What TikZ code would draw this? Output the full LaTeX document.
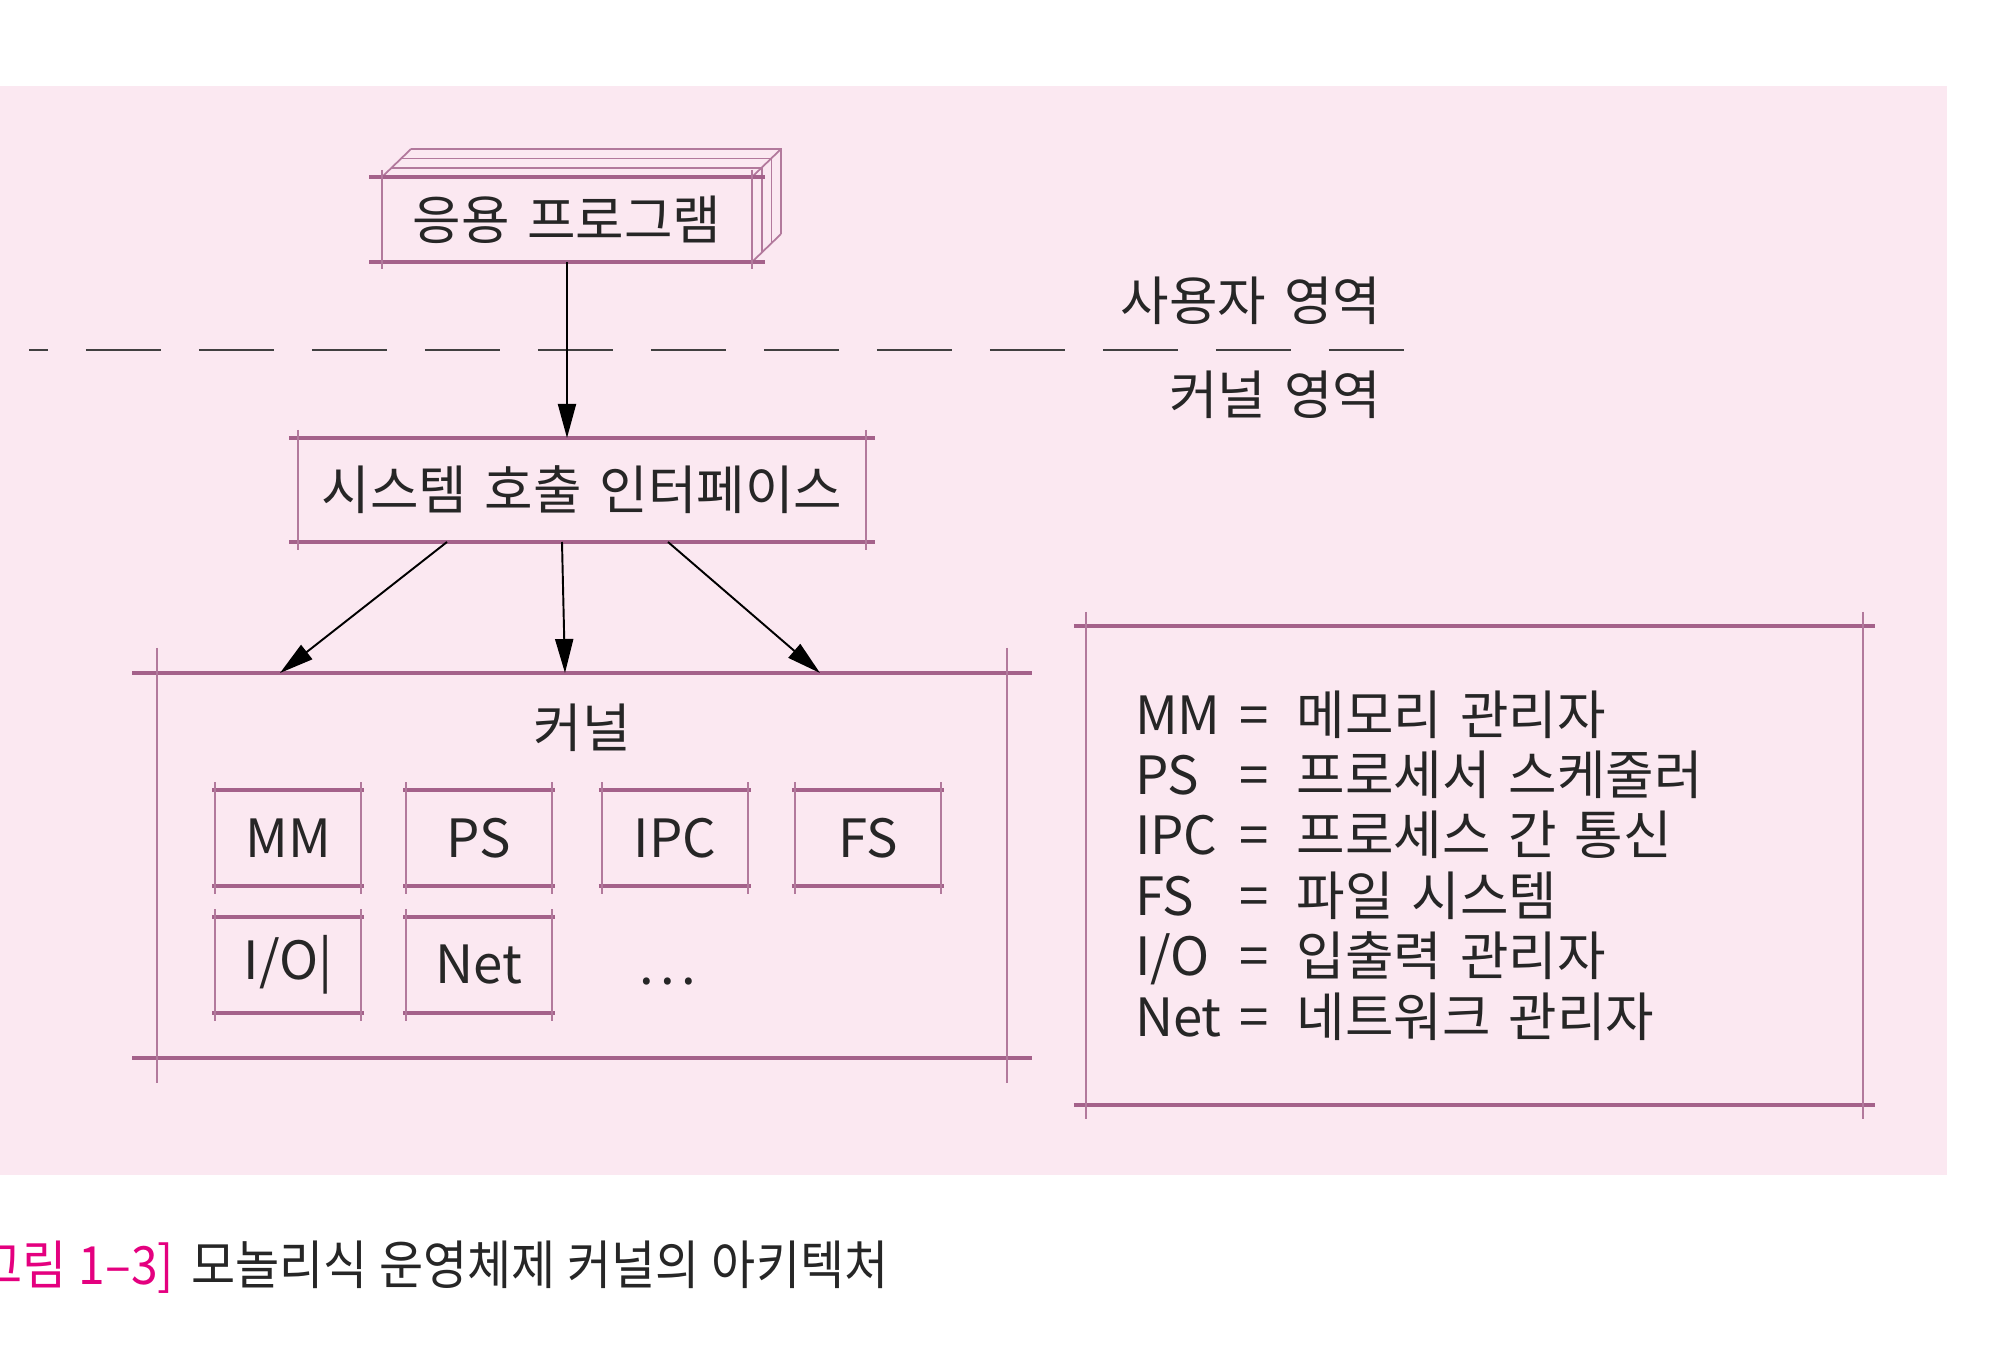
\documentclass[tikz,border=0pt]{standalone}
\usepackage{fontspec}
\setmainfont{Noto Sans CJK KR}[WordSpace=1.5]
\newfontfamily\capfont{Noto Sans CJK KR}[FakeStretch=0.91,WordSpace=1.1]
\usepackage{tikz}
\usetikzlibrary{arrows.meta,positioning,calc}
\definecolor{osbg}{HTML}{FBE8F1}
\definecolor{osframe}{HTML}{A4618A}
\definecolor{osink}{HTML}{262626}
\definecolor{osmagenta}{HTML}{E4007F}
\newcommand{\roughframe}[3]{%
  \draw[edgeh] ($(#1.north west)+(-#2,0)$) -- ($(#1.north east)+(#2,0)$);
  \draw[edgeh] ($(#1.south west)+(-#2,0)$) -- ($(#1.south east)+(#2,0)$);
  \draw[edgev] ($(#1.north west)+(0,-#3)$) -- ($(#1.south west)+(0,#3)$);
  \draw[edgev] ($(#1.north east)+(0,-#3)$) -- ($(#1.south east)+(0,#3)$);
}
\newcommand{\legrow}[2]{\makebox[10.5mm][l]{#1}\makebox[5.7mm][l]{=}#2}

\begin{document}
\begin{tikzpicture}[x=0.1mm, y=-0.1mm,
  every node/.style={text=osink, inner sep=0pt, outer sep=0pt,
                     font=\fontsize{15pt}{18pt}\selectfont},
  module/.style={minimum width=14.6mm, minimum height=9.6mm},
  edgeh/.style={osframe, line width=1.3pt},
  edgev/.style={osframe!85, line width=0.5pt},
  ar/.style={-{Triangle[length=3.4mm, width=1.8mm]}, black, line width=0.55pt},
  zone/.style={black!75, line width=0.6pt, dash pattern=on 7.5mm off 3.8mm, dash phase=5.6mm},
  legline/.style={anchor=base west},
]
\useasboundingbox (0,0) rectangle (2003,1347);
\fill[osbg] (0,86) rectangle (1947,1175);

\node[minimum width=37mm, minimum height=8.5mm] (app) at (567,219.5) {응용 프로그램};
\foreach \k in {1,2,3} {
  \draw[edgev] ($(app.north west)+(\k*9.7,-\k*9.3)$) -- ($(app.north east)+(\k*9.7,-\k*9.3)$)
    -- ($(app.south east)+(\k*9.7,-\k*9.3)$);
}
\draw[edgev] (app.north west) -- ($(app.north west)+(29,-28)$);
\draw[edgev] (app.north east) -- ($(app.north east)+(29,-28)$);
\draw[edgev] (app.south east) -- ($(app.south east)+(29,-28)$);

\node[minimum width=56.8mm, minimum height=10.4mm, below=17.6mm of app, xshift=1.5mm] (sci)
  {시스템 호출 인터페이스};
\node[minimum width=85mm, minimum height=38.5mm, below=13.1mm of sci] (kern) {};
\node[minimum width=77.7mm, minimum height=47.9mm, right=7.9mm of kern] (leg) {};

\coordinate (zl) at (29,350);
\coordinate (zr) at (1425,350);
\draw[zone] (zl) -- (zr);
\node[anchor=east] (userzone) at (1381,301) {사용자 영역};
\node[anchor=east] (kernzone) at (1381,395) {커널 영역};

\node (kernlbl) at ($(kern.north)+(0,55)$) {커널};
\node[module] (mm) at (288,838) {MM};
\node[module, right=4.5mm of mm] (ps) {PS};
\node[module, right=5mm of ps] (ipc) {IPC};
\node[module, right=4.7mm of ipc] (fs) {FS};
\node[module, below=3.1mm of mm] (io) {I/O|};
\node[module, below=3.1mm of ps] (net) {Net};
\node[anchor=base] (more) at (668,984) {.\hspace{0.12em}.\hspace{0.12em}.};

\roughframe{app}{13}{7}
\roughframe{sci}{9}{8}
\roughframe{kern}{25}{25}
\roughframe{leg}{12}{14}
\foreach \m in {mm,ps,ipc,fs,io,net} {\roughframe{\m}{3}{8}}

\draw[ar] (app.south) -- (app.south |- sci.north);
\draw[ar] ($(sci.south)+(-135,0)$) -- ($(kern.north)+(-302,0)$);
\draw[ar] ($(sci.south)+(-20,0)$) -- ($(kern.north)+(-17,0)$);
\draw[ar] ($(sci.south)+(86,0)$) -- ($(kern.north)+(238,0)$);

\node[legline] (leg1) at (1135,734) {\legrow{MM}{메모리 관리자}};
\node[legline] (leg2) at (1135,794.4) {\legrow{PS}{프로세서 스케줄러}};
\node[legline] (leg3) at (1135,854.8) {\legrow{IPC}{프로세스 간 통신}};
\node[legline] (leg4) at (1135,915.2) {\legrow{FS}{파일 시스템}};
\node[legline] (leg5) at (1135,975.6) {\legrow{I/O}{입출력 관리자}};
\node[legline] (leg6) at (1135,1036) {\legrow{Net}{네트워크 관리자}};

\node[anchor=base east, text=osmagenta, font=\capfont\fontsize{15pt}{18pt}\selectfont] (capnum)
  at (174,1284) {[그림 1–3]};
\node[anchor=base west, font=\capfont\fontsize{15pt}{18pt}\selectfont] (captxt)
  at ($(capnum.base east)+(17,0)$) {모놀리식 운영체제 커널의 아키텍처};
\end{tikzpicture}
\end{document}
